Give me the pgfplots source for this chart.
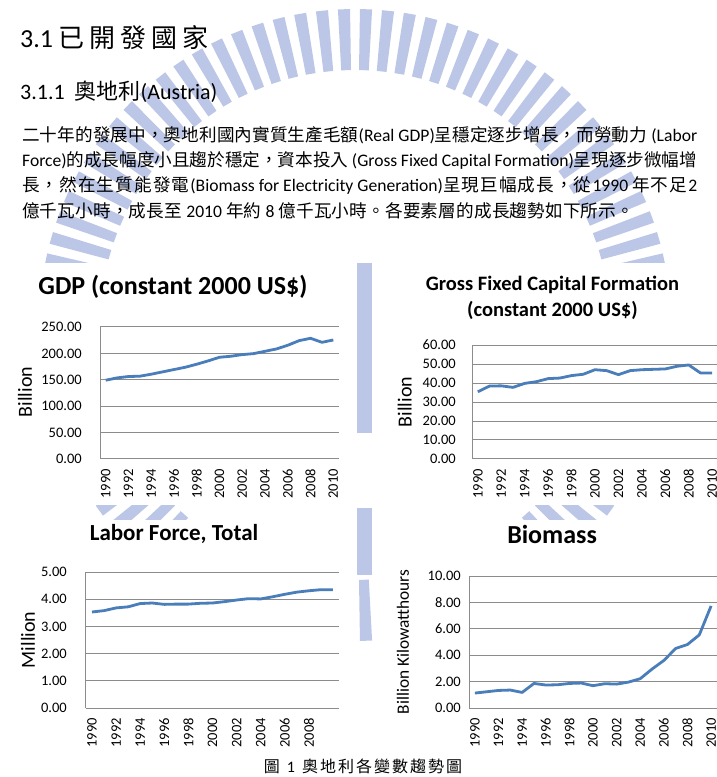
\documentclass[border=0pt]{standalone}
\usepackage{fontspec}
\setmainfont{Carlito}
\newfontfamily\cjk{Noto Sans CJK TC}
\usepackage{pgfplots}
\pgfplotsset{compat=1.18}
\definecolor{wm}{RGB}{188,199,231}
\definecolor{axgray}{RGB}{140,140,140}
\definecolor{lineblue}{RGB}{74,126,187}
\newcommand\zh[1]{{\cjk #1}}
\newcommand\fs[1]{\fontsize{#1}{#1}\selectfont}
% CJK run with stretchable glue after every character
\newcommand\zhsend{}
\def\zhsloop#1{\ifx#1\zhsend\else#1\hskip0pt plus 1fil\expandafter\zhsloop\fi}
\newcommand\zhs[1]{{\cjk\zhsloop#1\zhsend}}

\pgfplotsset{
  excel/.style={
    scale only axis,
    axis lines*=left,
    axis line style={draw=axgray, line width=1pt},
    ymajorgrids,
    grid style={draw=axgray, line width=1pt},
    major tick length=0pt,
    xmin=-0.5, xmax=20.5,
    ymin=0,
    tick label style={font=\fs{14.5}},
    xticklabel style={yshift=-10pt, rotate=90, anchor=east, inner sep=0pt},
    /pgf/number format/.cd, fixed, fixed zerofill, precision=2, assume math mode=true, 1000 sep={},
    /pgfplots/.cd,
    title style={inner sep=0pt},
    ylabel style={inner sep=0pt, anchor=center},
  },
  eline/.style={draw=lineblue, line width=2.8pt, line join=round, mark=none},
  years/.style={
    xtick={0,2,4,6,8,10,12,14,16,18,20},
    xticklabels={1990,1992,1994,1996,1998,2000,2002,2004,2006,2008,2010},
  }
}

\begin{document}
\begin{tikzpicture}[x=1pt,y=1pt]
\useasboundingbox (0,0) rectangle (717,777);

% ---- watermark (approximate) ----
\begin{scope}[shift={(355,452)}]
  \foreach \a in {0,4,...,356}{
    \fill[wm] ({\a-1.1}:255) -- ({\a+1.1}:255) -- ({\a+1.1}:316) -- ({\a-1.1}:316) -- cycle;
  }
\end{scope}
\fill[wm] (357,777-263) rectangle (372,777-433);
\fill[wm] (357,777-508) rectangle (372,777-575);

% ---- chart boxes ----
\fill[white] (0,777-263) rectangle (357,777-505);
\fill[white] (373,777-263) rectangle (717,777-505);
\fill[white] (0,777-520) rectangle (357,777-757);
\fill[white] (373,777-520) rectangle (717,777-757);

% ---- text ----
\node[anchor=base west, inner sep=0pt] at (20,777-48)
  {\fs{26}3.1 \zh{已\hspace{5pt}開\hspace{5pt}發\hspace{5pt}國\hspace{5pt}家}};
\node[anchor=base west, inner sep=0pt] at (20,777-100)
  {\fs{22}3.1.1 \ \zh{奧地利}(Austria)};

\node[anchor=base west, inner sep=0pt] at (22,777-142)
  {\fs{17.6}\hbox to 675pt{\zhs{二十年的發展中，奧地利國內實質生產毛額}(Real GDP)\zhs{呈穩定逐步增長，而勞動力} (Labor}};
\node[anchor=base west, inner sep=0pt] at (22,777-167)
  {\fs{17.6}\hbox to 675pt{Force)\zhs{的成長幅度小且趨於穩定，資本投入} (Gross Fixed Capital Formation)\zhs{呈現逐步微幅增}}};
\node[anchor=base west, inner sep=0pt] at (22,777-192)
  {\fs{17.6}\hbox to 675pt{\zhs{長，然在生質能發電}(Biomass for Electricity Generation)\zhs{呈現巨幅成長，從}1990 \zhs{年不足}2}};
\node[anchor=base west, inner sep=0pt] at (22,777-218)
  {\fs{17.6}\hbox to 612pt{\zhs{億千瓦小時，成長至} 2010 \zhs{年約} 8 \zhs{億千瓦小時。各要素層的成長趨勢如下所示}\zh{。}}};

\node[anchor=base, inner sep=0pt] at (363,777-772)
  {\fs{16}\zh{圖}\hspace{7pt}1\hspace{7pt}\hbox to 160pt{\zhs{奧地利各變數趨勢}\zh{圖}}};

% ---- GDP ----
\begin{axis}[excel, years,
  at={(100pt,318pt)}, anchor=south west, width=239pt, height=132pt,
  ymax=250, ytick={0,50,...,250},
  yticklabel style={anchor=east, inner sep=0pt, xshift=-18pt},
  title={GDP (constant 2000 US\$)},
  title style={at={(axis description cs:0.305,1.197)}, anchor=base, font=\fs{26}\bfseries},
  ylabel={Billion},
  ylabel style={at={(axis description cs:-0.314,0.508)}, font=\fs{20}},
]
\addplot[eline] coordinates {(0,149.2)(1,153.6)(2,156.2)(3,156.8)(4,160.6)(5,165.0)(6,169.4)(7,173.8)(8,179.5)(9,185.8)(10,192.7)(11,194.6)(12,197.7)(13,199.6)(14,204.0)(15,208.4)(16,215.4)(17,224.2)(18,228.6)(19,221.0)(20,225.4)};
\end{axis}

% ---- GFCF ----
\begin{axis}[excel, years,
  at={(472pt,318pt)}, anchor=south west, width=246pt, height=114pt,
  ymax=60, ytick={0,10,...,60},
  yticklabel style={anchor=east, inner sep=0pt, xshift=-16pt},
  title={Gross Fixed Capital Formation\\(constant 2000 US\$)},
  title style={at={(axis description cs:0.327,1.167)}, anchor=south, align=center, font=\fontsize{20.5}{26}\selectfont\bfseries},
  ylabel={Billion},
  ylabel style={at={(axis description cs:-0.273,0.5)}, font=\fs{20}},
]
\addplot[eline] coordinates {(0,35.4)(1,38.4)(2,38.5)(3,37.7)(4,39.8)(5,40.7)(6,42.3)(7,42.6)(8,43.9)(9,44.6)(10,47.0)(11,46.5)(12,44.4)(13,46.5)(14,47.0)(15,47.2)(16,47.4)(17,48.8)(18,49.5)(19,45.3)(20,45.3)};
\end{axis}

% ---- Labor ----
\begin{axis}[excel,
  at={(86pt,69pt)}, anchor=south west, width=253pt, height=136pt,
  xtick={0,2,4,6,8,10,12,14,16,18},
  xticklabels={1990,1992,1994,1996,1998,2000,2002,2004,2006,2008},
  ymax=5, ytick={0,1,...,5},
  yticklabel style={anchor=east, inner sep=0pt, xshift=-19pt},
  title={Labor Force, Total},
  title style={at={(axis description cs:0.348,1.184)}, anchor=base, font=\fs{23}\bfseries},
  ylabel={Million},
  ylabel style={at={(axis description cs:-0.229,0.5)}, font=\fs{20}},
]
\addplot[eline] coordinates {(0,3.53)(1,3.58)(2,3.68)(3,3.72)(4,3.84)(5,3.86)(6,3.81)(7,3.82)(8,3.82)(9,3.85)(10,3.86)(11,3.91)(12,3.97)(13,4.02)(14,4.01)(15,4.09)(16,4.18)(17,4.26)(18,4.31)(19,4.35)(20,4.35)};
\end{axis}

% ---- Biomass ----
\begin{axis}[excel, years,
  at={(469pt,69pt)}, anchor=south west, width=248pt, height=132pt,
  ymax=10, ytick={0,2,...,10},
  yticklabel style={anchor=east, inner sep=0pt, xshift=-8pt},
  title={Biomass},
  title style={at={(axis description cs:0.335,1.197)}, anchor=base, font=\fs{26}\bfseries},
  ylabel={Billion Kilowatthours},
  ylabel style={at={(axis description cs:-0.266,0.5)}, font=\fs{17.3}},
]
\addplot[eline] coordinates {(0,1.13)(1,1.23)(2,1.33)(3,1.36)(4,1.18)(5,1.86)(6,1.74)(7,1.76)(8,1.86)(9,1.89)(10,1.69)(11,1.84)(12,1.81)(13,1.96)(14,2.22)(15,2.95)(16,3.60)(17,4.51)(18,4.81)(19,5.54)(20,7.73)};
\end{axis}
\end{tikzpicture}
\end{document}
